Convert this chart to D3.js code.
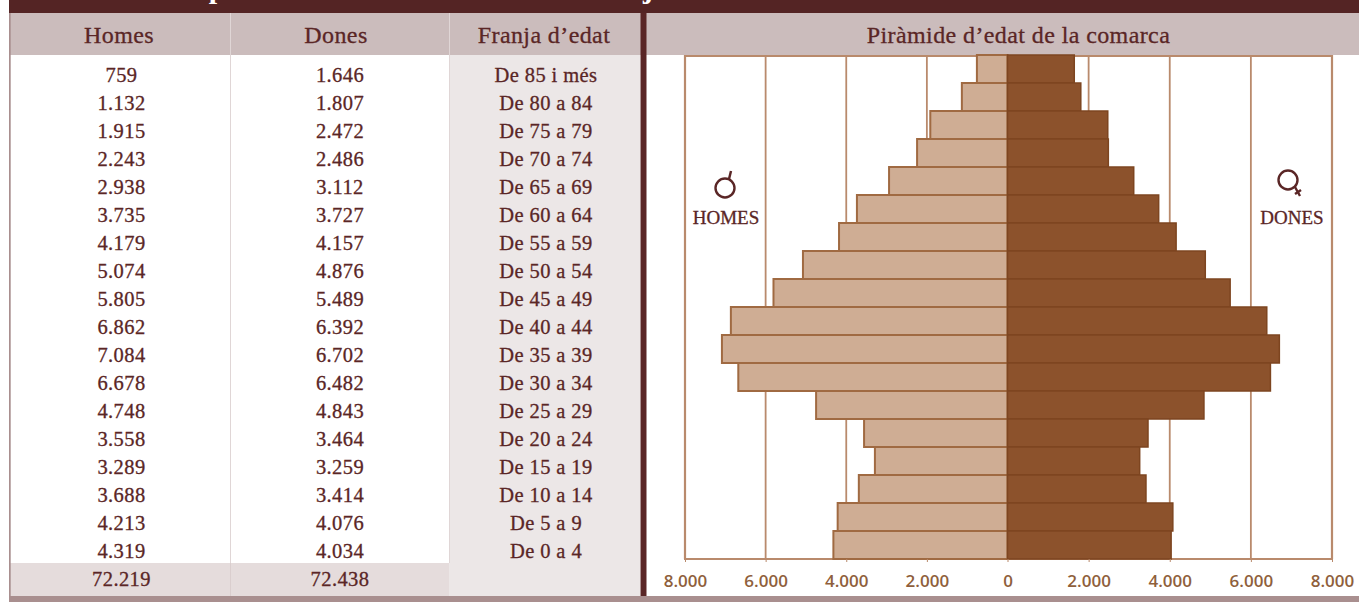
<!DOCTYPE html>
<html><head><meta charset="utf-8">
<script src="https://cdnjs.cloudflare.com/ajax/libs/d3/7.8.5/d3.min.js"></script>
<style>html,body{margin:0;padding:0;background:#fff}svg{display:block}
.s{font-family:"Liberation Serif",serif;fill:#5a2626;stroke:#5a2626;stroke-width:.3px;letter-spacing:.4px}
</style></head><body><svg id="c" width="1359" height="602"></svg>
<script>
const ageBands=["De 85 i més","De 80 a 84","De 75 a 79","De 70 a 74","De 65 a 69","De 60 a 64","De 55 a 59","De 50 a 54","De 45 a 49","De 40 a 44","De 35 a 39","De 30 a 34","De 25 a 29","De 20 a 24","De 15 a 19","De 10 a 14","De 5 a 9","De 0 a 4"];
const homes=[759,1132,1915,2243,2938,3735,4179,5074,5805,6862,7084,6678,4748,3558,3289,3688,4213,4319];
const dones=[1646,1807,2472,2486,3112,3727,4157,4876,5489,6392,6702,6482,4843,3464,3259,3414,4076,4034];
const totals=[72219,72438];
const headers=["Homes","Dones","Franja d’edat","Piràmide d’edat de la comarca"];
const axisTicks=[8000,6000,4000,2000,0];
const svg=d3.select("#c");
const fmt=n=>d3.formatLocale({decimal:",",thousands:".",grouping:[3],currency:["",""]}).format(",")(n);
const y=d3.scaleBand().domain(ageBands).range([55,559]).padding(0);
const xL=d3.scaleLinear().domain([0,8000]).range([1007.5,685]);
const xR=d3.scaleLinear().domain([0,8000]).range([1007.5,1332]);
const R=(x,yy,w,h,f)=>svg.append("rect").attr("x",x).attr("y",yy).attr("width",w).attr("height",h).attr("fill",f);
// frame
R(0,0,1359,602,"#fff");
R(9,0,1350,13,"#542424");
R(10,13,1349,42,"#cbbcbc");
R(449,55,191,508,"#ece7e7");
R(10,563,439,33,"#e5dcdc");
R(449,563,191,33,"#ece7e7");
R(9,13,1.7,589,"#a98f8f");
R(9,596,1350,6,"#a98f8f");
R(640.5,13,6,583,"#5a2626");
[230,449].forEach(x=>R(x,13,1,550,"#e0d6d6"));
R(230,563,1,33,"#dacece");
// clipped title descenders
svg.append("clipPath").attr("id","tc").append("rect").attr("x",9).attr("y",0).attr("width",1350).attr("height",13);
[["p",217],["j",648]].forEach(([t,x])=>svg.append("text").attr("clip-path","url(#tc)").attr("x",x).attr("y",-2).attr("text-anchor","middle").attr("font-family","Liberation Serif").attr("font-weight","bold").attr("font-size",30).attr("fill","#fff").text(t));
// headers
const colX=[119,336,544,1018.5];
headers.forEach((h,i)=>svg.append("text").attr("class","s").attr("x",colX[i]).attr("y",43).attr("text-anchor","middle").attr("font-size",24).text(h));
// table rows: the table text sits slightly below the matching bar band
const rowOffset=6;
const rowText=(vals,x)=>svg.append("g").selectAll("text").data(vals).join("text").attr("class","s")
 .attr("x",x).attr("y",(d,i)=>y(ageBands[i])+y.bandwidth()/2+rowOffset+6.5).attr("text-anchor","middle").attr("font-size",20.5).text(d=>d);
rowText(homes.map(fmt),121.5);
rowText(dones.map(fmt),340);
rowText(ageBands,546);
totals.forEach((t,i)=>svg.append("text").attr("class","s").attr("x",[121.5,340][i]).attr("y",586).attr("text-anchor","middle").attr("font-size",20.5).text(fmt(t)));
// grid
const gridC="#b98a6c";
const g=svg.append("g");
axisTicks.filter(t=>t>0).forEach(t=>{[xL,xR].forEach(s=>{
  g.append("line").attr("x1",s(t)).attr("x2",s(t)).attr("y1",55).attr("y2",559).attr("stroke",gridC).attr("stroke-width",t===8000?2.2:1.8);
});});
g.append("line").attr("x1",684).attr("x2",1333).attr("y1",56).attr("y2",56).attr("stroke",gridC).attr("stroke-width",2);
g.append("line").attr("x1",684).attr("x2",1333).attr("y1",559).attr("y2",559).attr("stroke",gridC).attr("stroke-width",2.2);
// bars
svg.append("g").selectAll("rect").data(homes).join("rect").attr("x",d=>xL(d)).attr("y",(d,i)=>y(ageBands[i]))
 .attr("width",d=>xL(0)-xL(d)).attr("height",y.bandwidth()).attr("fill","#cfad94").attr("stroke","#a06a42").attr("stroke-width",2);
svg.append("g").selectAll("rect").data(dones).join("rect").attr("x",xR(0)).attr("y",(d,i)=>y(ageBands[i]))
 .attr("width",d=>xR(d)-xR(0)).attr("height",y.bandwidth()).attr("fill","#8c522c").attr("stroke","#7d4520").attr("stroke-width",1.5);
// axis
const drawAxis=(s,ticks)=>{
  const a=svg.append("g").attr("transform","translate(0,559)").call(d3.axisBottom(s).tickValues(ticks).tickSize(3).tickFormat(fmt));
  a.select(".domain").remove();
  a.selectAll("line").attr("stroke",gridC);
  a.selectAll("text").attr("y",28).attr("dy",0).attr("font-family","Open Sans").attr("font-size",17).attr("font-weight",600).attr("fill","#8f5f3c");
};
drawAxis(xL,axisTicks);drawAxis(xR,axisTicks.filter(t=>t>0));
// gender labels
[["HOMES",726],["DONES",1292]].forEach(([t,x])=>svg.append("text").attr("class","s").style("letter-spacing","0").attr("x",x).attr("y",224).attr("text-anchor","middle").attr("font-size",19).text(t));
const sym=svg.append("g").attr("fill","none").attr("stroke","#5a2626").attr("stroke-width",2.4);
sym.append("circle").attr("cx",725).attr("cy",188).attr("r",9.5);
sym.append("line").attr("x1",729).attr("y1",179).attr("x2",731).attr("y2",171);
sym.append("circle").attr("cx",1288).attr("cy",180).attr("r",9.5);
sym.append("line").attr("x1",1295).attr("y1",187).attr("x2",1300).attr("y2",196);
sym.append("line").attr("x1",1295).attr("y1",194).attr("x2",1301).attr("y2",190);
</script></body></html>
